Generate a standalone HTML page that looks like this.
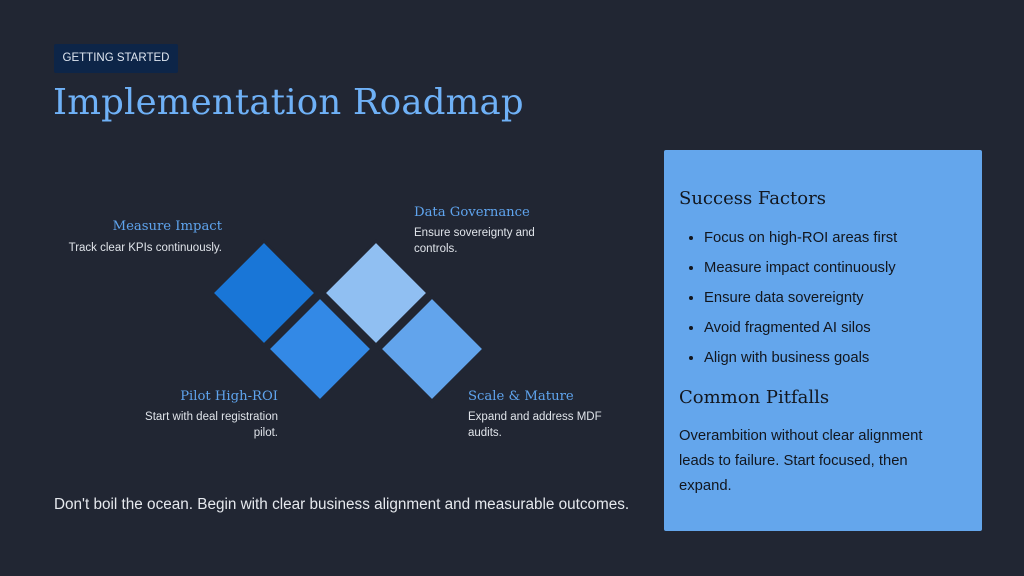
<!DOCTYPE html>
<html><head><style>
body{margin:0;width:1024px;height:576px;background:#212633;position:relative;overflow:hidden;font-family:"Liberation Sans",sans-serif;}
.a{position:absolute;}
.badge{left:54px;top:44px;width:124px;height:29px;background:#0d2548;color:#dfe6f0;font-size:11.5px;line-height:29px;text-align:center;border-radius:2px;}
.title{left:53px;top:82px;font-family:"DejaVu Serif","Liberation Serif",serif;font-size:35.5px;color:#6fb1f7;white-space:nowrap;letter-spacing:0.2px}
.h{font-family:"DejaVu Serif","Liberation Serif",serif;font-size:13.2px;color:#5fa4ee;white-space:nowrap}
.s{font-size:11.5px;color:#e0e4ea;line-height:16px}
.panel{left:664px;top:150px;width:318px;height:381px;background:#64a6ec;border-radius:2px;color:#12161e}
.panel .t{font-family:"DejaVu Serif","Liberation Serif",serif;font-size:18px;position:absolute;left:15px}
.panel ul{position:absolute;left:15px;top:73px;margin:0;padding:0 0 0 25px;font-size:14.8px;line-height:30px}
</style></head><body>
<div class="a badge">GETTING STARTED</div>
<div class="a title">Implementation Roadmap</div>
<svg class="a" style="left:0;top:0" width="660" height="576">
<g stroke="#212633" stroke-width="3" stroke-linejoin="miter">
<polygon points="264,241 316,293 264,345 212,293" fill="#1976d7"/>
<polygon points="376,241 428,293 376,345 324,293" fill="#90bff2"/>
<polygon points="320,297 372,349 320,401 268,349" fill="#3389e6"/>
<polygon points="432,297 484,349 432,401 380,349" fill="#62a4ec"/>
</g>
</svg>
<div class="a h" style="right:802px;top:219px;text-align:right">Measure Impact</div>
<div class="a s" style="right:802px;top:240px;text-align:right;white-space:nowrap">Track clear KPIs continuously.</div>
<div class="a h" style="left:414px;top:205px">Data Governance</div>
<div class="a s" style="left:414px;top:225px;width:140px">Ensure sovereignty and controls.</div>
<div class="a h" style="right:746px;top:389px;text-align:right">Pilot High-ROI</div>
<div class="a s" style="right:746px;top:409px;width:150px;text-align:right">Start with deal registration pilot.</div>
<div class="a h" style="left:468px;top:389px">Scale &amp; Mature</div>
<div class="a s" style="left:468px;top:409px;width:145px">Expand and address MDF audits.</div>
<div class="a" style="left:54px;top:496px;font-size:15.3px;color:#e6e9ee;white-space:nowrap">Don't boil the ocean. Begin with clear business alignment and measurable outcomes.</div>
<div class="a panel">
<div class="t" style="top:38px">Success Factors</div>
<ul><li>Focus on high-ROI areas first</li><li>Measure impact continuously</li><li>Ensure data sovereignty</li><li>Avoid fragmented AI silos</li><li>Align with business goals</li></ul>
<div class="t" style="top:237px">Common Pitfalls</div>
<div style="position:absolute;left:15px;top:274px;width:265px;font-size:14.8px;line-height:25px">Overambition without clear alignment leads to failure. Start focused, then expand.</div>
</div>
</body></html>
